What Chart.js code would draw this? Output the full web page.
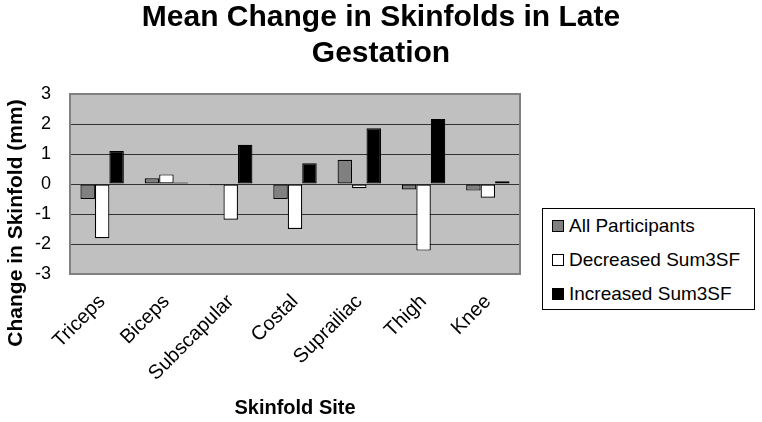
<!DOCTYPE html>
<html>
<head>
<meta charset="utf-8">
<script src="https://cdn.jsdelivr.net/npm/chart.js@4/dist/chart.umd.min.js"></script>
<style>
  body { margin: 0; background: #fff; }
  #wrap { position: relative; width: 762px; height: 422px; }
  #legenda {
    position: absolute; left: 542px; top: 208px; width: 213px; height: 102px;
    border: 1px solid #000; box-sizing: border-box; background: #fff;
    font-family: "Liberation Sans", Arial, sans-serif; font-size: 19px; color: #000;
  }
  #legenda ul { margin: 0; padding: 0; }
  #legenda li { list-style: none; height: 34px; display: flex; align-items: center; padding-left: 9px; white-space: nowrap; }
  #legenda span.caixa { width: 10px; height: 10px; border: 1px solid #000; margin-right: 5px; display: inline-block; flex: none; }
</style>
</head>
<body>
<div id="wrap">
  <canvas id="grafico" width="762" height="422"></canvas>
  <div id="legenda"><ul data-lista></ul></div>
</div>
<script>
const sitios = ['Triceps', 'Biceps', 'Subscapular', 'Costal', 'Suprailiac', 'Thigh', 'Knee'];
const todos = [-0.5, 0.19, -0.04, -0.5, 0.81, -0.18, -0.22];
const diminuiu = [-1.81, 0.32, -1.19, -1.5, -0.14, -2.22, -0.46];
const aumentou = [1.1, 0.05, 1.31, 0.69, 1.86, 2.17, 0.09];
const nomesSeries = ['All Participants', 'Decreased Sum3SF', 'Increased Sum3SF'];
const coresSeries = ['#808080', '#ffffff', '#000000'];

const fonte = '"Liberation Sans", Arial, sans-serif';

// fundo cinza e borda da area do grafico
const fundoPlot = {
  id: 'fundoPlot',
  beforeDraw(chart) {
    const { ctx, chartArea: a } = chart;
    ctx.save();
    ctx.fillStyle = '#c0c0c0';
    ctx.fillRect(a.left, a.top, a.right - a.left, a.bottom - a.top);
    ctx.restore();
  },
  afterDraw(chart) {
    const { ctx, chartArea: a } = chart;
    ctx.save();
    ctx.strokeStyle = '#808080';
    ctx.lineWidth = 2;
    ctx.strokeRect(a.left, a.top, a.right - a.left, a.bottom - a.top);
    // titulo do eixo y
    ctx.translate(16, 223);
    ctx.rotate(-Math.PI / 2);
    ctx.font = 'bold 21px ' + fonte;
    ctx.fillStyle = '#000';
    ctx.textAlign = 'center';
    ctx.textBaseline = 'middle';
    ctx.fillText('Change in Skinfold (mm)', 0, 0);
    ctx.restore();
  }
};

const grafico = new Chart(document.getElementById('grafico'), {
  type: 'bar',
  data: {
    labels: sitios,
    datasets: [todos, diminuiu, aumentou].map((valores, i) => ({
      label: nomesSeries[i],
      data: valores,
      backgroundColor: coresSeries[i],
      borderColor: '#000',
      borderWidth: 1.2,
      borderSkipped: false,
      categoryPercentage: 0.675,
      barPercentage: 1
    }))
  },
  options: {
    responsive: false,
    animation: false,
    layout: { padding: { left: 0, right: 0, top: 0, bottom: 2 } },
    plugins: {
      legend: { display: false },
      tooltip: { enabled: false },
      title: {
        display: true,
        text: ['Mean Change in Skinfolds in Late', 'Gestation'],
        color: '#000',
        font: { family: fonte, size: 30, weight: 'bold', lineHeight: 1.2 },
        padding: { top: 0, bottom: 22 }
      }
    },
    scales: {
      x: {
        grid: { display: false },
        border: { display: false },
        ticks: {
          color: '#000',
          font: { family: fonte, size: 20 },
          minRotation: 45,
          maxRotation: 45,
          autoSkip: false,
          padding: 8
        },
        title: {
          display: true,
          text: 'Skinfold Site',
          color: '#000',
          font: { family: fonte, size: 20, weight: 'bold', lineHeight: 1.2 },
          padding: 0
        },
        afterFit(escala) { escala.height = 146; }
      },
      y: {
        min: -3,
        max: 3,
        grid: { color: '#333', lineWidth: 1, drawTicks: false },
        border: { display: false },
        ticks: {
          stepSize: 1,
          color: '#000',
          font: { family: fonte, size: 18 },
          padding: 19
        },
        afterFit(escala) { escala.width = 70; }
      },
      espaco: {
        position: 'right',
        display: true,
        grid: { display: false },
        border: { display: false },
        ticks: { display: false },
        afterFit(escala) { escala.width = 242; }
      }
    }
  },
  plugins: [fundoPlot]
});

// legenda em html, montada a partir das series
const lista = document.querySelector('[data-lista]');
nomesSeries.forEach((nome, i) => {
  const item = document.createElement('li');
  item.innerHTML = `<span class="caixa" style="background:${coresSeries[i]}"></span>${nome}`;
  lista.appendChild(item);
});
</script>
</body>
</html>
